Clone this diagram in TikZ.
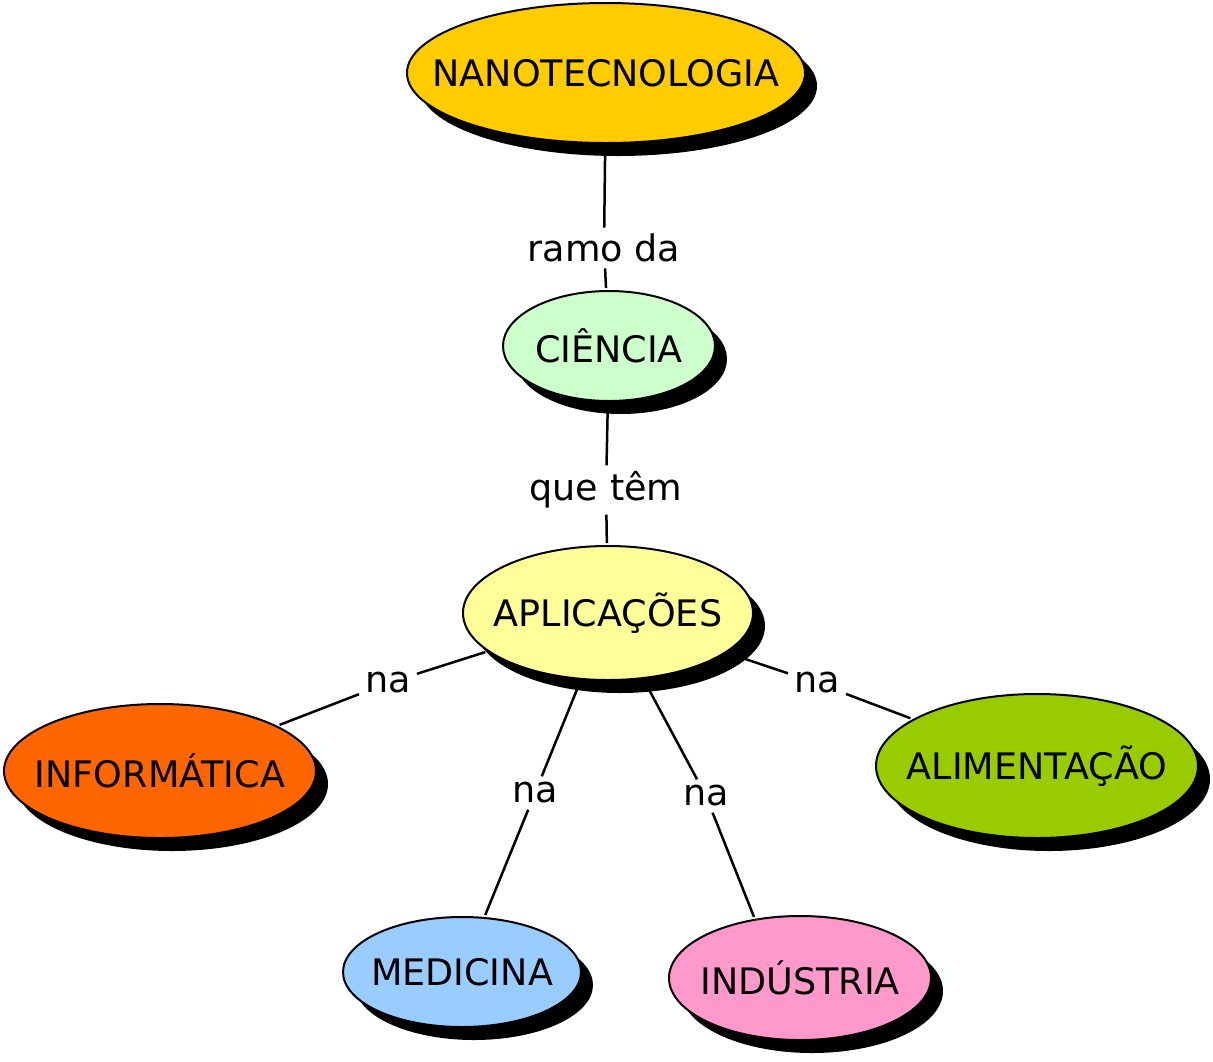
\documentclass[tikz,border=0pt]{standalone}
\usepackage{fontspec}
\setmainfont{DejaVu Sans}
\usetikzlibrary{shapes.geometric, shadows}

\tikzset{
  concept/.style={ellipse, draw, line width=2pt, inner sep=0pt, outer sep=3pt,
    font=\fontsize{36.5}{40}\selectfont,
    execute at begin node={\hbox to 0pt\bgroup\hss},
    execute at end node={\hss\egroup},
    drop shadow={shadow xshift=12pt, shadow yshift=-13pt, fill=black, opacity=1}},
  link/.style={font=\fontsize{36.5}{40}\selectfont, inner sep=5pt},
}

\begin{document}
\begin{tikzpicture}[x=1pt, y=1pt, line width=2.5pt]
  \useasboundingbox (0,0) rectangle (1213,-1061);

  \node[concept, fill={rgb,255:red,255;green,204;blue,0}, minimum width=398pt, minimum height=140pt] (nano) at (606,-73) {NANOTECNOLOGIA};
  \node[concept, fill={rgb,255:red,204;green,255;blue,204}, minimum width=212pt, minimum height=110pt] (ciencia) at (609,-346) {CIÊNCIA};
  \node[concept, fill={rgb,255:red,255;green,255;blue,153}, minimum width=290pt, minimum height=134pt] (aplic) at (608,-613) {APLICAÇÕES};
  \node[concept, fill={rgb,255:red,255;green,102;blue,0}, minimum width=312pt, minimum height=134pt] (info) at (160,-771) {INFORMÁTICA};
  \node[concept, fill={rgb,255:red,153;green,204;blue,0}, minimum width=322pt, minimum height=144pt] (alim) at (1037,-766) {ALIMENTAÇÃO};
  \node[concept, fill={rgb,255:red,153;green,204;blue,255}, minimum width=238pt, minimum height=110pt] (medic) at (462,-972) {MEDICINA};
  \node[concept, fill={rgb,255:red,255;green,153;blue,204}, minimum width=262pt, minimum height=124pt] (indus) at (800,-978) {INDÚSTRIA};

  \node[link] (ramo) at (604,-248) {ramo da};
  \node[link] (quetem) at (606,-490) {que têm};
  \node[link] (na1) at (388,-683) {na};
  \node[link] (na2) at (535,-793) {na};
  \node[link] (na3) at (706,-796) {na};
  \node[link] (na4) at (817,-683) {na};

  \draw (nano) -- (ramo) -- (ciencia);
  \draw (ciencia) -- (quetem) -- (aplic);
  \draw (aplic) -- (na1) -- (info);
  \draw (aplic) -- (na2) -- (medic);
  \draw (aplic) -- (na3) -- (indus.127);
  \draw (aplic) -- (na4) -- (alim);
\end{tikzpicture}
\end{document}
